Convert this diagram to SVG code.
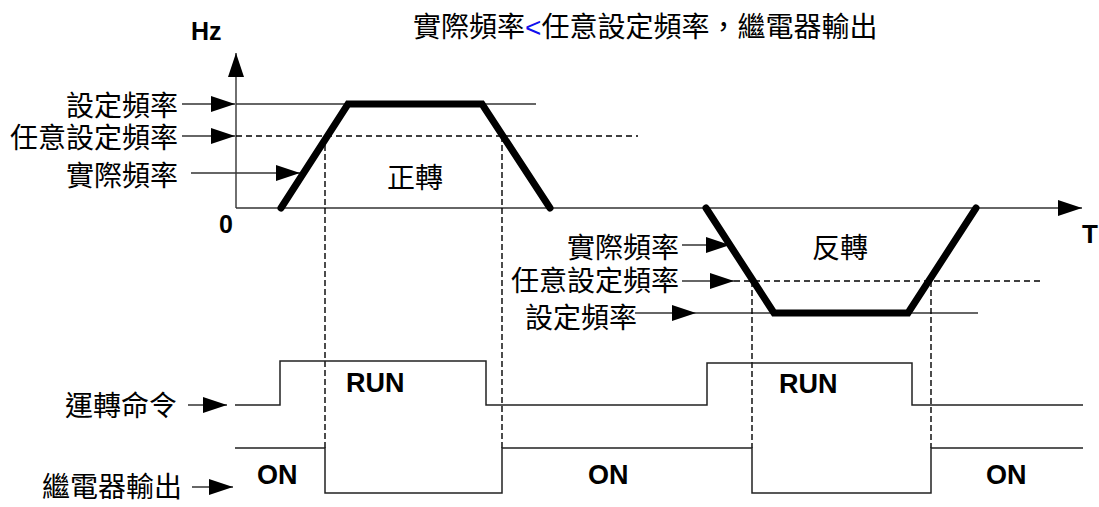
<svg xmlns="http://www.w3.org/2000/svg" width="1099" height="507" viewBox="0 0 1099 507">
<style>
.cjk{font-family:"Liberation Sans","Noto Sans CJK TC",sans-serif;font-size:28px;fill:#000}
.b{font-family:"Liberation Sans",Arial,sans-serif;font-weight:bold;fill:#000}
.thin{fill:none;stroke:#333;stroke-width:1.4}
.dash{fill:none;stroke:#000;stroke-width:1.5;stroke-dasharray:6 4}
.vdash{fill:none;stroke:#000;stroke-width:1.4;stroke-dasharray:6 3}
.thick{fill:none;stroke:#000;stroke-width:7;stroke-linecap:round;stroke-linejoin:miter}
.sig{fill:none;stroke:#222;stroke-width:1.5}
.arr{fill:none;stroke:#333;stroke-width:1.4;marker-end:url(#ah)}
</style>
<defs>
<marker id="ah" markerUnits="userSpaceOnUse" markerWidth="25" markerHeight="16" refX="24" refY="8" orient="auto">
<path d="M0,0 L24,8 L0,16 Z" fill="#000"/>
</marker>
</defs>
<rect width="1099" height="507" fill="#fff"/>

<g id="title">
<text class="cjk" x="413" y="37">實際頻率<tspan fill="#1010ee">&lt;</tspan>任意設定頻率，繼電器輸出</text>
</g>

<g id="axes">
<path class="arr" d="M236,208 V53"/>
<path class="arr" d="M236,208 H1082"/>
<text class="b" x="191" y="40" font-size="25">Hz</text>
<text class="b" x="219" y="233" font-size="25">0</text>
<text class="b" x="1082" y="243" font-size="26">T</text>
</g>

<g id="reference-lines">
<path class="thin" d="M236,104 H536"/>
<path class="dash" d="M236,136 H638"/>
<path class="thin" d="M696,313 H978"/>
<path class="dash" d="M734,281 H1040"/>
</g>

<g id="connectors">
<path class="arr" d="M182,104 H235"/>
<path class="arr" d="M182,136 H235"/>
<path class="arr" d="M191,173 H300"/>
<path class="arr" d="M682,245 H730"/>
<path class="arr" d="M682,281 H734"/>
<path class="arr" d="M635,313 H696"/>
<path class="arr" d="M188,405 H227"/>
<path class="arr" d="M192,487 H233"/>
<path class="vdash" d="M325,136 V448"/>
<path class="vdash" d="M502,136 V448"/>
<path class="vdash" d="M752,281 V448"/>
<path class="vdash" d="M931,281 V448"/>
</g>

<g id="forward-curve">
<path class="thick" d="M281,208 L348,104 L482,104 L550,208"/>
<text class="cjk" x="387" y="188">正轉</text>
</g>

<g id="reverse-curve">
<path class="thick" d="M706,208 L774,313 L908,313 L976,208"/>
<text class="cjk" x="812" y="258">反轉</text>
</g>

<g id="left-labels">
<text class="cjk" x="178" y="116" text-anchor="end">設定頻率</text>
<text class="cjk" x="178" y="148" text-anchor="end">任意設定頻率</text>
<text class="cjk" x="178" y="186" text-anchor="end">實際頻率</text>
</g>

<g id="right-labels">
<text class="cjk" x="679" y="258" text-anchor="end">實際頻率</text>
<text class="cjk" x="679" y="291" text-anchor="end">任意設定頻率</text>
<text class="cjk" x="637" y="328" text-anchor="end">設定頻率</text>
</g>

<g id="run-command">
<text class="cjk" x="177" y="416" text-anchor="end">運轉命令</text>
<path class="sig" d="M235,405 H280 V361 H486 V405 H707 V363 H912 V405 H1083"/>
<text class="b" x="346" y="392" font-size="27">RUN</text>
<text class="b" x="779" y="393" font-size="27">RUN</text>
</g>

<g id="relay-output">
<text class="cjk" x="182" y="497" text-anchor="end">繼電器輸出</text>
<path class="sig" d="M235,448 H325 V493 H502 V448 H752 V493 H931 V448 H1083"/>
<text class="b" x="257" y="484" font-size="27">ON</text>
<text class="b" x="588" y="484" font-size="27">ON</text>
<text class="b" x="986" y="484" font-size="27">ON</text>
</g>
</svg>
